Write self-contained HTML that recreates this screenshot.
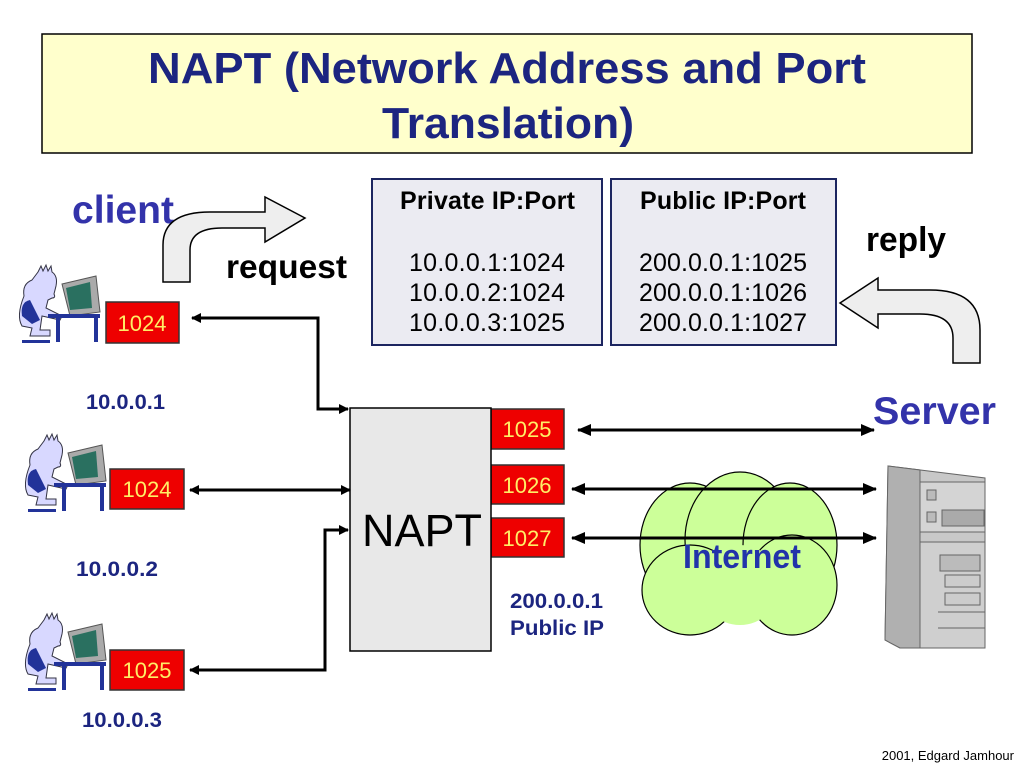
<!DOCTYPE html>
<html><head><meta charset="utf-8"><style>body{margin:0;background:#fff}svg{display:block}text{font-family:"Liberation Sans",sans-serif}</style></head><body>
<svg width="1024" height="768" viewBox="0 0 1024 768" xmlns="http://www.w3.org/2000/svg">
<defs>
<marker id="a" markerWidth="10" markerHeight="10" refX="9" refY="5" orient="auto-start-reverse" markerUnits="userSpaceOnUse"><path d="M0,0 L10,5 L0,10 z" fill="#000"/></marker>
<marker id="b" markerWidth="14" markerHeight="12" refX="13" refY="6" orient="auto-start-reverse" markerUnits="userSpaceOnUse"><path d="M0,0 L14,6 L0,12 z" fill="#000"/></marker>
<g id="p">
<path d="M20,8 l3,-6 l2,5 l3,-6 l2,6 l3,-5 l1,6 q6,4 4,14 l-2,8 q2,4 -2,4 l-4,2 l-2,8 l16,8 l-2,4 l-18,-4 l-2,14 l10,0 l0,6 l-20,0 l2,-8 l-10,-2 q-6,-10 2,-30 q-2,-12 8,-16z" fill="#d8d8ff" stroke="#334" stroke-width="1"/>
<path d="M4,52 q-2,-14 8,-16 l10,20 l-8,4z" fill="#223399"/>
<path d="M44,20 l34,-8 l4,36 l-30,4 z" fill="#aaa" stroke="#555"/>
<path d="M48,24 l24,-6 l2,26 l-22,2z" fill="#2a7060"/>
<rect x="30" y="50" width="52" height="4" fill="#223399"/>
<rect x="38" y="54" width="4" height="24" fill="#223399"/>
<rect x="76" y="54" width="4" height="24" fill="#223399"/>
<rect x="4" y="76" width="28" height="3" fill="#223399"/>
</g>
</defs>
<rect x="42" y="34" width="930" height="119" fill="#ffffcc" stroke="#000" stroke-width="1.5"/>
<text x="148" y="83" font-size="44" font-weight="bold" fill="#1c2580" textLength="718" lengthAdjust="spacingAndGlyphs">NAPT (Network Address and Port</text>
<text x="382" y="138" font-size="44" font-weight="bold" fill="#1c2580" textLength="252" lengthAdjust="spacingAndGlyphs">Translation)</text>

<rect x="372" y="179" width="230" height="166" fill="#ebebf2" stroke="#1c2560" stroke-width="2"/>
<rect x="611" y="179" width="225" height="166" fill="#ebebf2" stroke="#1c2560" stroke-width="2"/>
<g font-size="25" fill="#000" lengthAdjust="spacingAndGlyphs">
<text x="400" y="209" font-weight="bold" textLength="175">Private IP:Port</text>
<text x="409" y="271" textLength="156">10.0.0.1:1024</text><text x="409" y="301" textLength="156">10.0.0.2:1024</text><text x="409" y="331" textLength="156">10.0.0.3:1025</text>
<text x="640" y="209" font-weight="bold" textLength="166">Public IP:Port</text>
<text x="639" y="271" textLength="168">200.0.0.1:1025</text><text x="639" y="301" textLength="168">200.0.0.1:1026</text><text x="639" y="331" textLength="168">200.0.0.1:1027</text>
</g>

<text x="72" y="223" font-size="39" font-weight="bold" fill="#3333aa" textLength="102" lengthAdjust="spacingAndGlyphs">client</text>
<text x="226" y="278" font-size="33" font-weight="bold" textLength="121" lengthAdjust="spacingAndGlyphs">request</text>
<text x="866" y="251" font-size="34" font-weight="bold" textLength="80" lengthAdjust="spacingAndGlyphs">reply</text>
<text x="873" y="424" font-size="39" font-weight="bold" fill="#3333aa" textLength="123" lengthAdjust="spacingAndGlyphs">Server</text>

<path d="M163,282 L163,245 Q163,212 210,212 L265,212 L265,197 L305,218 L265,242 L265,228 L222,228 Q190,228 190,250 L190,282 Z" fill="#eeeeee" stroke="#000" stroke-width="1.5"/>
<path d="M980,363 L980,330 Q980,290 930,290 L878,290 L878,278 L840,303 L878,328 L878,314 L920,314 Q953,314 953,338 L953,363 Z" fill="#eeeeee" stroke="#000" stroke-width="1.5"/>

<use href="#p" x="18" y="264"/>
<use href="#p" x="24" y="433"/>
<use href="#p" x="24" y="612"/>

<g fill="#ee0000" stroke="#333" stroke-width="1.5">
<rect x="106" y="302" width="73" height="41"/><rect x="110" y="469" width="74" height="40"/><rect x="110" y="650" width="74" height="40"/>
<rect x="491" y="409" width="73" height="40"/><rect x="491" y="465" width="73" height="39"/><rect x="491" y="518" width="73" height="39"/>
</g>
<g font-size="22" fill="#ffee66" text-anchor="middle">
<text x="142" y="331">1024</text><text x="147" y="497">1024</text><text x="147" y="678">1025</text>
<text x="527" y="437">1025</text><text x="527" y="493">1026</text><text x="527" y="546">1027</text>
</g>

<rect x="350" y="408" width="141" height="243" fill="#e8e8e8" stroke="#000" stroke-width="1.5"/>
<text x="362" y="546" font-size="45" textLength="120" lengthAdjust="spacingAndGlyphs">NAPT</text>

<g stroke="#000" stroke-width="3" fill="none">
<path d="M192,318 L318,318 L318,409 L348,409" marker-start="url(#a)" marker-end="url(#a)"/>
<path d="M190,490 L350,490" marker-start="url(#a)" marker-end="url(#a)"/>
<path d="M190,670 L325,670 L325,530 L348,530" marker-start="url(#a)" marker-end="url(#a)"/>
</g>

<g fill="#ccff99" stroke="#000" stroke-width="1.2">
<ellipse cx="690" cy="545" rx="50" ry="62"/>
<ellipse cx="740" cy="540" rx="55" ry="68"/>
<ellipse cx="790" cy="545" rx="47" ry="62"/>
<ellipse cx="690" cy="590" rx="48" ry="45"/>
<ellipse cx="792" cy="585" rx="45" ry="50"/>
<ellipse cx="740" cy="585" rx="40" ry="40" stroke="none"/>
</g>
<text x="683" y="568" font-size="34" font-weight="bold" fill="#2233aa" textLength="118" lengthAdjust="spacingAndGlyphs">Internet</text>

<g stroke="#000" stroke-width="3" fill="none">
<path d="M578,430 L874,430" marker-start="url(#b)" marker-end="url(#b)"/>
<path d="M572,489 L876,489" marker-start="url(#b)" marker-end="url(#b)"/>
<path d="M572,538 L876,538" marker-start="url(#b)" marker-end="url(#b)"/>
</g>

<g stroke="#666" stroke-width="1">
<path d="M888,466 L985,478 L985,648 L900,648 L885,640 Z" fill="#c8c8c8"/>
<path d="M888,466 L920,470 L920,648 L900,648 L885,640 Z" fill="#b0b0b0"/>
<rect x="920" y="482" width="65" height="50" fill="#d4d4d4"/>
<rect x="942" y="510" width="42" height="16" fill="#aaa"/>
<rect x="927" y="490" width="9" height="10" fill="#bbb"/><rect x="927" y="512" width="9" height="10" fill="#bbb"/>
<rect x="920" y="542" width="65" height="106" fill="#cfcfcf"/>
<rect x="940" y="555" width="40" height="16" fill="#bbb"/>
<rect x="945" y="575" width="35" height="12" fill="#ccc"/>
<rect x="945" y="593" width="35" height="12" fill="#ccc"/>
<line x1="938" y1="612" x2="985" y2="612"/><line x1="938" y1="628" x2="985" y2="628"/>
</g>

<g font-size="21" font-weight="bold" fill="#1c2580">
<text x="86" y="409" textLength="79" lengthAdjust="spacingAndGlyphs">10.0.0.1</text><text x="76" y="576" textLength="82" lengthAdjust="spacingAndGlyphs">10.0.0.2</text><text x="82" y="727" textLength="80" lengthAdjust="spacingAndGlyphs">10.0.0.3</text>
<text x="510" y="608" textLength="93" lengthAdjust="spacingAndGlyphs">200.0.0.1</text><text x="510" y="635" textLength="94" lengthAdjust="spacingAndGlyphs">Public IP</text>
</g>
<text x="1014" y="760" font-size="13" text-anchor="end">2001, Edgard Jamhour</text>
</svg>
</body></html>
